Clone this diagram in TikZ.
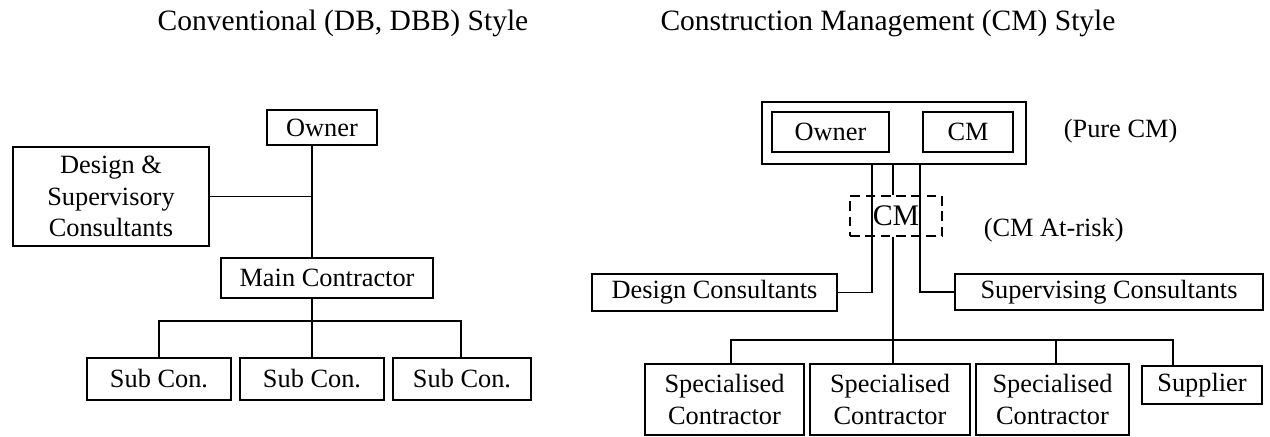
\documentclass[tikz,border=0pt]{standalone}
\usepackage{fontspec}
\setmainfont{Liberation Serif}

\begin{document}
\begin{tikzpicture}[x=0.02cm,y=-0.02cm,line width=1.1pt,
  box/.style={draw,inner sep=0pt,align=center,font=\fontsize{15}{18}\selectfont},
  riskbox/.style={box,dash pattern=on 5.5pt off 3.2pt,font=\fontsize{17}{19}\selectfont},
  heading/.style={anchor=base,font=\fontsize{16.8}{19}\selectfont},
  remark/.style={anchor=base west,font=\fontsize{15}{18}\selectfont}]
  \useasboundingbox (0,0) rectangle (1270,436);

  % headings
  \node[heading] (convtitle) at (343,30.5) {Conventional (DB, DBB) Style};
  \node[heading] (cmtitle) at (888,30.5) {Construction Management (CM) Style};

  % conventional style
  \node[box,minimum width=2.2cm,minimum height=0.7cm] (owner) at (322,127.5) {Owner};
  \node[box,minimum width=3.92cm,minimum height=1.98cm] (design) at (111,196.5) {Design \&\\Supervisory\\Consultants};
  \node[box,minimum width=4.24cm,minimum height=0.8cm] (main) at (327,278) {Main Contractor};
  \node[box,minimum width=2.88cm,minimum height=0.84cm] (sub1) at (159,379) {Sub Con.};
  \node[box,minimum width=2.88cm,minimum height=0.84cm] (sub2) at (312,379) {Sub Con.};
  \node[box,minimum width=2.76cm,minimum height=0.84cm] (sub3) at (462,379) {Sub Con.};
  \coordinate (ltrunk) at (312,0);
  \coordinate (lbus) at (0,321);
  \draw (owner.south -| ltrunk) -- (main.north -| ltrunk);
  \draw (design.east) -- (design.east -| ltrunk);
  \draw (main.south -| ltrunk) -- (sub2.north -| ltrunk);
  \draw (sub1.north) |- (lbus -| ltrunk) -| (sub3.north -| 461,0);

  % CM style
  \node[box,minimum width=5.28cm,minimum height=1.24cm] (frame) at (894,133) {};
  \node[box,minimum width=2.34cm,minimum height=0.8cm] (owner2) at (830.5,132) {Owner};
  \node[box,minimum width=1.8cm,minimum height=0.8cm] (cmpure) at (968,132) {CM};
  \node[remark] (purenote) at (1057,137) {(Pure CM)};
  \node[riskbox,minimum width=1.84cm,minimum height=0.8cm] (cmrisk) at (896,216) {CM};
  \node[remark] (risknote) at (977,236) {(CM At-risk)};
  \node[box,minimum width=4.9cm,minimum height=0.74cm] (design2) at (714.5,292.5) {Design Consultants};
  \node[box,minimum width=6.16cm,minimum height=0.72cm] (superv) at (1109,292) {Supervising Consultants};
  \node[box,minimum width=3.18cm,minimum height=1.42cm] (spec1) at (724.5,399.5) {Specialised\\Contractor};
  \node[box,minimum width=3.2cm,minimum height=1.42cm] (spec2) at (890,399.5) {Specialised\\Contractor};
  \node[box,minimum width=3.06cm,minimum height=1.42cm] (spec3) at (1052.5,399.5) {Specialised\\Contractor};
  \node[box,minimum width=2.4cm,minimum height=0.76cm] (supplier) at (1202,385) {Supplier};
  \coordinate (rdes) at (872,0);
  \coordinate (rtrunk) at (893,0);
  \coordinate (rsup) at (920,0);
  \coordinate (rbus) at (0,340);
  \coordinate (drop1) at (731,0);
  \coordinate (drop3) at (1056,0);
  \coordinate (drop4) at (1173,0);
  \draw (frame.south -| rtrunk) -- (cmrisk.north -| rtrunk);
  \draw (frame.south -| rdes) |- (design2.east);
  \draw (frame.south -| rsup) |- (superv.west);
  \draw (cmrisk.south -| rtrunk) -- (spec2.north -| rtrunk);
  \draw (spec1.north -| drop1) |- (rbus -| drop4) -- (supplier.north -| drop4);
  \draw (spec3.north -| drop3) -- (rbus -| drop3);
\end{tikzpicture}
\end{document}
